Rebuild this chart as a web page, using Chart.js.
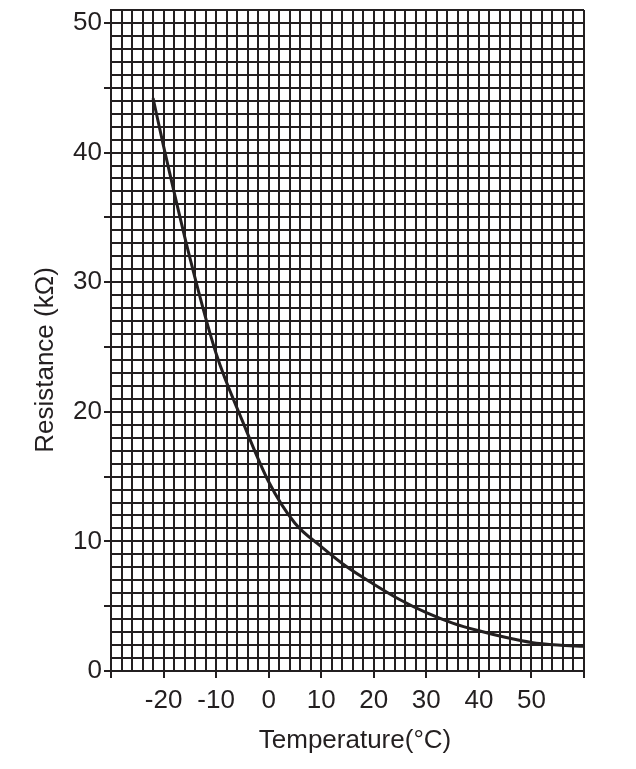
<!DOCTYPE html>
<html>
<head>
<meta charset="utf-8">
<title>Resistance vs Temperature</title>
<script src="https://cdn.jsdelivr.net/npm/chart.js@4.4.1/dist/chart.umd.min.js"></script>
<style>
  html, body { margin: 0; padding: 0; background: #fff; }
  canvas { display: block; }
</style>
</head>
<body>
<canvas id="chart" width="636" height="769"></canvas>
<script>
// values
const temperatures = [-22, -20, -15, -10, -5, 0, 5, 10, 15, 20, 25, 30, 35, 40, 45, 50, 55, 60];
const resistance = [44.2, 40.5, 31.9, 24.5, 19.3, 14.6, 11.4, 9.6, 8.0, 6.7, 5.5, 4.5, 3.7, 3.1, 2.6, 2.2, 2.0, 1.9];

const xLabels = [-20, -10, 0, 10, 20, 30, 40, 50];
const yLabels = [0, 10, 20, 30, 40, 50];

const xTitle = 'Temperature(°C)';
const yTitle = 'Resistance (kΩ)';

const ink = '#231f20';
const fontFamily = '"Liberation Sans", Arial, sans-serif';

// axis titles sit a little off-centre in the original, so place them by hand
const axisTitles = {
  id: 'axisTitles',
  afterDraw(chart) {
    const ctx = chart.ctx;
    ctx.save();
    ctx.fillStyle = ink;
    ctx.font = '26px ' + fontFamily;
    ctx.textAlign = 'center';
    ctx.textBaseline = 'middle';
    ctx.fillText(xTitle, 355, 741);
    ctx.translate(46, 360);
    ctx.rotate(-Math.PI / 2);
    ctx.fillText(yTitle, 0, 0);
    ctx.restore();
  }
};

const ctx = document.getElementById('chart').getContext('2d');
new Chart(ctx, {
  type: 'line',
  data: {
    datasets: [{
      label: 'Resistance',
      data: temperatures.map((t, i) => ({ x: t, y: resistance[i] })),
      borderColor: ink,
      borderWidth: 3,
      pointRadius: 0,
      fill: false,
      cubicInterpolationMode: 'monotone'
    }]
  },
  options: {
    responsive: false,
    animation: false,
    layout: { padding: { top: 10, right: 52, bottom: 0, left: 0 } },
    plugins: {
      legend: { display: false },
      tooltip: { enabled: false }
    },
    scales: {
      x: {
        type: 'linear',
        min: -30,
        max: 60,
        afterFit: scale => { scale.height = 98; },
        border: { color: ink, width: 2 },
        grid: {
          color: ink,
          lineWidth: 2,
          tickLength: 7,
          tickColor: c => (c.tick && c.tick.value % 10 === 0) ? ink : 'rgba(0,0,0,0)'
        },
        ticks: {
          stepSize: 2,
          autoSkip: false,
          maxRotation: 0,
          padding: 7,
          color: ink,
          font: { family: fontFamily, size: 26 },
          callback: v => xLabels.includes(v) ? String(v) : ''
        }
      },
      y: {
        type: 'linear',
        min: 0,
        max: 51,
        afterFit: scale => {
          scale.width = 111;
          scale.paddingTop = 0;
          scale.paddingBottom = 0;
        },
        border: { color: ink, width: 2 },
        grid: {
          color: ink,
          lineWidth: 2,
          tickLength: 7,
          tickColor: c => (c.tick && c.tick.value % 5 === 0) ? ink : 'rgba(0,0,0,0)'
        },
        ticks: {
          stepSize: 1,
          autoSkip: false,
          padding: 2,
          color: ink,
          font: { family: fontFamily, size: 26 },
          callback: v => yLabels.includes(v) ? String(v) : ''
        }
      }
    }
  },
  plugins: [axisTitles]
});
</script>
</body>
</html>
